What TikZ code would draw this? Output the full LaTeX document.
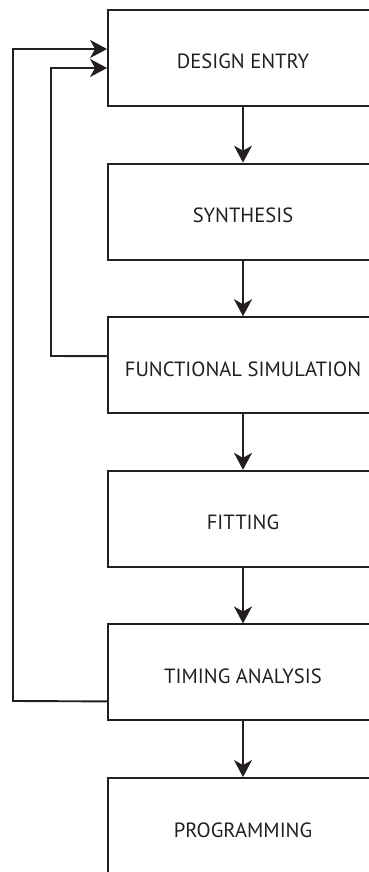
\documentclass[tikz,border=0pt]{standalone}
\usepackage{fontspec}
\setmainfont{PT Sans}
\usetikzlibrary{arrows.meta,calc}
\definecolor{ink}{HTML}{231F20}
\begin{document}
\begin{tikzpicture}[x=1pt,y=1pt,
  stage/.style={draw=ink,line width=1.9pt,minimum width=270pt,minimum height=96pt,
    inner sep=0pt,text height=22pt,text depth=0pt,font=\fontsize{20.6}{20.6}\selectfont,text=ink},
  flow/.style={draw=ink,line width=1.9pt,line join=miter,-{Stealth[length=17pt,width=18pt,inset=5pt]}}]
\useasboundingbox (0,0) rectangle (369,-872);
\node[stage] (b1) at (243,-58)    {DESIGN ENTRY};
\node[stage] (b2) at (243,-211.6) {SYNTHESIS};
\node[stage] (b3) at (243,-365.2) {FUNCTIONAL SIMULATION};
\node[stage] (b4) at (243,-518.8) {FITTING};
\node[stage] (b5) at (243,-672.4) {TIMING ANALYSIS};
\node[stage] (b6) at (243,-826)   {PROGRAMMING};
\draw[flow] (b1) -- (b2);
\draw[flow] (b2) -- (b3);
\draw[flow] (b3) -- (b4);
\draw[flow] (b4) -- (b5);
\draw[flow] (b5) -- (b6);
% feedback loops back to design entry
\coordinate (t1) at ($(b1.west)+(0,9)$);
\coordinate (t2) at ($(b1.west)+(0,-10)$);
\coordinate (s3) at ($(b3.west)+(0,9)$);
\coordinate (s5) at ($(b5.west)+(0,-29)$);
\draw[flow] (s5) -- (13,-701) -- (13,-49) -- (t1);
\draw[flow] (s3) -- (51,-356) -- (51,-68) -- (t2);
\end{tikzpicture}
\end{document}
